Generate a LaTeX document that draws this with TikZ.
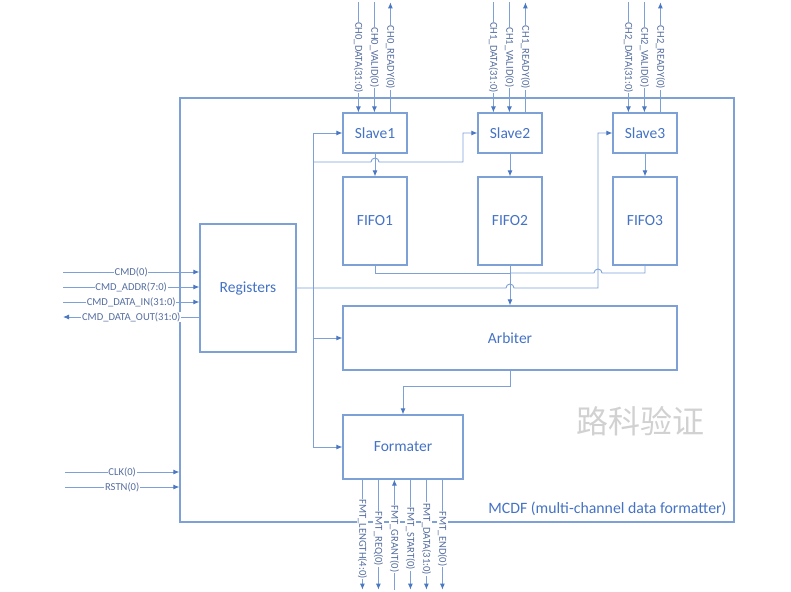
\documentclass[tikz,border=0pt]{standalone}
\usepackage{fontspec}
\setmainfont{Carlito}
\newfontfamily\cjk{Noto Sans CJK SC}
\usetikzlibrary{arrows.meta,calc}
\definecolor{wirecol}{RGB}{125,160,215}
\definecolor{tipcol}{RGB}{75,120,195}
\definecolor{textcol}{RGB}{68,114,196}
\definecolor{sigcol}{RGB}{85,110,160}
\tikzset{
  blk/.style={draw=wirecol,line width=1.2pt,text=textcol,font=\fontsize{15.5}{15.5}\selectfont,inner sep=0pt},
  wire/.style={draw=wirecol,line width=0.9pt,>={Latex[length=6pt,width=5pt,color=tipcol]}},
  lbl/.style={fill=white,inner sep=0.6pt,text=sigcol,font=\fontsize{10.6}{10.6}\selectfont},
}
\begin{document}
\begin{tikzpicture}[x=1pt,y=-1pt]
   \useasboundingbox (0,0) rectangle (791,591);
   \node[blk,minimum width=554pt,minimum height=424pt] (mcdf) at (457,310) {};
   \node[blk,minimum width=96pt,minimum height=128pt] (reg) at (248,288) {Registers};
   \node[blk,minimum width=64pt,minimum height=40pt] (s1) at (375,133) {Slave1};
   \node[blk,minimum width=64pt,minimum height=40pt] (s2) at (510,133) {Slave2};
   \node[blk,minimum width=64pt,minimum height=40pt] (s3) at (645,133) {Slave3};
   \node[blk,minimum width=64pt,minimum height=88pt] (f1) at (375,221) {FIFO1};
   \node[blk,minimum width=64pt,minimum height=88pt] (f2) at (510,221) {FIFO2};
   \node[blk,minimum width=64pt,minimum height=88pt] (f3) at (645,221) {FIFO3};
   \node[blk,minimum width=334pt,minimum height=64pt] (arb) at (510,338) {Arbiter};
   \node[blk,minimum width=120pt,minimum height=64pt] (fmt) at (403,447) {Formater};
   \node[text=textcol,font=\fontsize{15.8}{15.8}\selectfont,anchor=east] (mcdflbl) at (730,509) {MCDF (multi-channel data formatter)};
   \node[text=black!18,font=\cjk\fontsize{32}{32}\selectfont] (wm) at (640,421) {路科验证};

   \foreach \s/\c in {s1/0,s2/1,s3/2}{
     \draw[wire,<-] ($(\s.north west)+(16,0)$) -- ++(0,-110) node[lbl,rotate=-90,pos=.5]{CH\c\_DATA(31:0)};
     \draw[wire,<-] ($(\s.north west)+(32,0)$) -- ++(0,-110) node[lbl,rotate=-90,pos=.5]{CH\c\_VALID(0)};
     \draw[wire,->] ($(\s.north west)+(48,0)$) -- ++(0,-110) node[lbl,rotate=-90,pos=.5]{CH\c\_READY(0)};
   }
   \foreach \i in {1,2,3}
     \draw[wire,->] (s\i) -- (f\i);

   \foreach \y/\t in {272/CMD(0),287/CMD\_ADDR(7:0),302/CMD\_DATA\_IN(31:0)}
     \draw[wire,->] (63,\y) -- node[lbl]{\t} (reg.west |- 63,\y);
   \draw[wire,<-] (63,317) -- node[lbl]{CMD\_DATA\_OUT(31:0)} (reg.west |- 63,317);
   \draw[wire,->] (65,472) -- node[lbl]{CLK(0)} (mcdf.west |- 65,472);
   \draw[wire,->] (65,487) -- node[lbl]{RSTN(0)} (mcdf.west |- 65,487);

   \coordinate (bt) at (313,133);
   \coordinate (bb) at (313,447);
   \coordinate (mrg) at (510,273);
   \draw[wire] (bt) -- (bb);
   \draw[wire,->] (bt) -- (s1.west);
   \draw[wire,->] (313,162) -- (371,162) arc[start angle=180,end angle=360,radius=4] -- (463,162) |- (s2.west);
   \draw[wire,->] (reg.east) -- (506,288) arc[start angle=180,end angle=360,radius=4] -- (598,288) |- (s3.west);
   \draw[wire,->] (bt |- arb.west) -- (arb.west);
   \draw[wire,->] (bb) -- (fmt.west);

   \draw[wire] (f1.south) |- (mrg);
   \draw[wire] (f3.south) |- (602,273) arc[start angle=0,end angle=-180,radius=4] -- (mrg);
   \draw[wire,->] (f2) -- (arb);
   \draw[wire,->] (arb.south) -- ++(0,16) -| (fmt.north);

   \foreach \o/\t in {20/FMT\_LENGTH(4:0),36/FMT\_REQ(0),68/FMT\_START(0),84/FMT\_DATA(31:0),100/FMT\_END(0)}
     \draw[wire,->] ($(fmt.south west)+(\o,0)$) -- ++(0,110) node[lbl,rotate=-90,pos=.54]{\t};
   \draw[wire,<-] ($(fmt.south west)+(52,0)$) -- ++(0,110) node[lbl,rotate=-90,pos=.54]{FMT\_GRANT(0)};
 \end{tikzpicture}
\end{document}
